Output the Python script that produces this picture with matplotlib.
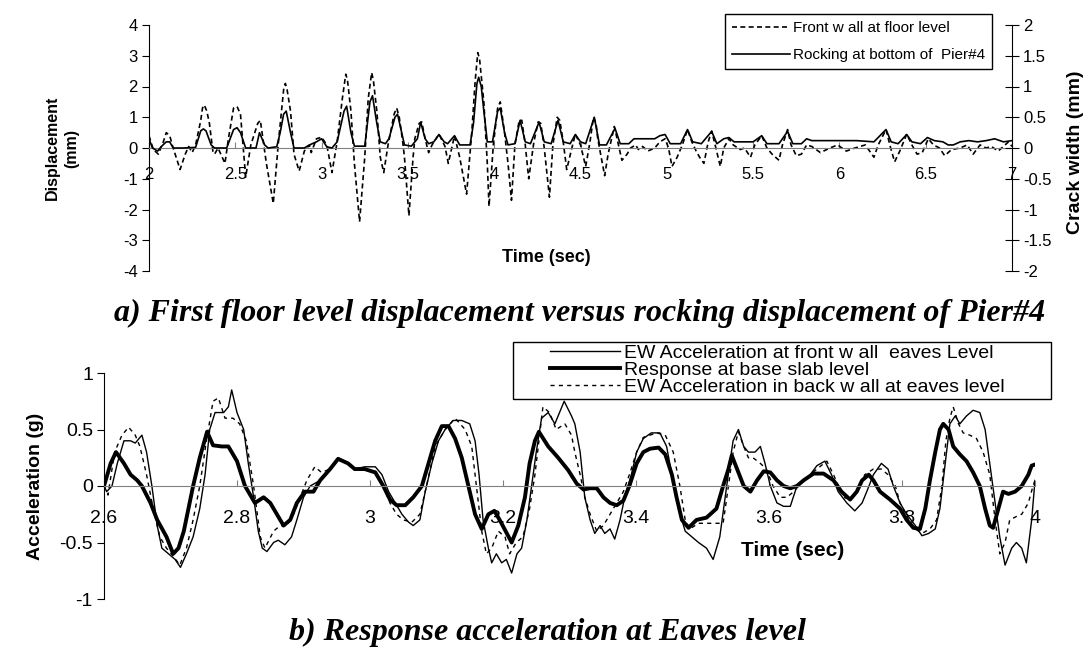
import matplotlib
matplotlib.use('Agg')
import matplotlib.pyplot as plt
from matplotlib.patches import Rectangle

plt.rcParams['font.family'] = ['Liberation Sans', 'DejaVu Sans']

# ---- panel a: displacement (mm) and crack width (mm) vs time (sec)
front_wall = [
    (2.00, 0.4), (2.025, -0.05), (2.054, -0.2), (2.083, 0.2), (2.10, 0.5), (2.12, 0.4), (2.14, 0.0),
    (2.18, -0.7), (2.21, -0.2), (2.23, 0.05), (2.25, -0.15), (2.27, 0.1), (2.30, 0.9), (2.31, 1.3),
    (2.32, 1.4), (2.335, 1.2), (2.35, 0.8), (2.37, -0.1), (2.38, -0.2), (2.40, 0.0), (2.44, -0.5),
    (2.46, 0.3), (2.49, 1.3), (2.51, 1.35), (2.53, 1.1), (2.56, -0.95), (2.59, 0.1), (2.63, 0.8),
    (2.645, 0.9), (2.66, 0.3), (2.68, -0.5), (2.72, -1.8), (2.75, 0.2), (2.78, 1.9), (2.79, 2.1),
    (2.80, 1.9), (2.82, 1.2), (2.84, -0.2), (2.87, -0.75), (2.90, -0.1), (2.93, 0.1), (2.94, -0.15),
    (2.97, 0.3), (3.00, 0.35), (3.03, 0.1), (3.06, -0.8), (3.09, 0.2), (3.12, 1.6), (3.14, 2.4),
    (3.15, 2.2), (3.17, 1.2), (3.19, -0.5), (3.22, -2.4), (3.25, -0.3), (3.27, 1.6), (3.29, 2.45),
    (3.30, 2.2), (3.32, 1.2), (3.34, -0.3), (3.36, -0.8), (3.385, 0.1), (3.42, 1.1), (3.435, 1.3),
    (3.45, 1.0), (3.47, 0.2), (3.48, -0.3), (3.506, -2.2), (3.53, -0.3), (3.54, 0.3), (3.565, 0.8),
    (3.58, 0.85), (3.60, 0.3), (3.62, -0.15), (3.64, 0.1), (3.68, 0.45), (3.715, 0.05), (3.734, -0.5),
    (3.77, 0.4), (3.80, -0.3), (3.84, -1.5), (3.87, 0.5), (3.89, 2.2), (3.905, 3.1), (3.915, 2.9),
    (3.94, 1.5), (3.96, -0.5), (3.97, -1.9), (3.995, 0.1), (4.02, 1.3), (4.035, 1.5), (4.06, 0.5),
    (4.08, -0.5), (4.10, -1.7), (4.12, 0.1), (4.145, 0.9), (4.16, 0.9), (4.18, 0.1), (4.20, -1.0),
    (4.23, 0.2), (4.255, 0.85), (4.27, 0.8), (4.29, 0.0), (4.32, -1.6), (4.34, 0.1), (4.365, 1.0),
    (4.38, 0.9), (4.40, 0.2), (4.42, -0.7), (4.45, 0.0), (4.47, 0.45), (4.50, 0.1), (4.53, -0.6),
    (4.555, 0.2), (4.575, 1.0), (4.59, 0.8), (4.60, 0.3), (4.62, -0.3), (4.64, -0.9), (4.66, -0.2),
    (4.696, 0.7), (4.72, 0.1), (4.74, -0.4), (4.77, -0.2), (4.79, 0.0), (4.82, 0.1), (4.835, -0.05),
    (4.86, 0.05), (4.89, -0.1), (4.93, 0.0), (4.96, 0.2), (4.99, 0.3), (5.01, 0.0), (5.03, -0.6),
    (5.06, -0.3), (5.09, 0.1), (5.12, 0.6), (5.145, 0.2), (5.17, -0.1), (5.19, -0.3), (5.215, -0.5),
    (5.24, 0.2), (5.26, 0.55), (5.28, 0.1), (5.31, -0.6), (5.33, 0.0), (5.36, 0.3), (5.385, 0.1),
    (5.425, -0.05), (5.45, 0.0), (5.485, -0.3), (5.51, 0.1), (5.55, 0.4), (5.58, 0.0), (5.61, -0.2),
    (5.65, -0.4), (5.67, 0.1), (5.70, 0.6), (5.72, 0.1), (5.75, -0.25), (5.78, -0.2), (5.81, 0.1),
    (5.84, 0.05), (5.89, -0.15), (5.945, 0.0), (5.99, 0.1), (6.04, -0.1), (6.09, 0.0), (6.15, 0.1),
    (6.20, -0.3), (6.225, 0.1), (6.27, 0.6), (6.297, 0.0), (6.32, -0.45), (6.35, -0.1), (6.39, 0.45),
    (6.42, 0.1), (6.45, -0.2), (6.48, -0.15), (6.515, 0.3), (6.545, 0.1), (6.58, 0.0), (6.61, -0.25),
    (6.65, -0.05), (6.70, 0.0), (6.74, 0.1), (6.775, -0.2), (6.815, 0.1), (6.85, 0.0), (6.88, 0.05),
    (6.92, -0.1), (6.96, 0.1), (6.98, 0.2), (7.00, 0.05),
]

rocking = [
    (2.00, 0.15), (2.02, 0.0), (2.05, -0.05), (2.07, 0.02), (2.10, 0.1), (2.12, 0.1), (2.14, 0.0),
    (2.20, 0.0), (2.27, 0.01), (2.30, 0.28), (2.315, 0.31), (2.33, 0.28), (2.36, 0.05), (2.38, 0.0),
    (2.45, 0.0), (2.49, 0.3), (2.51, 0.33), (2.53, 0.25), (2.56, 0.0), (2.62, 0.0), (2.64, 0.25),
    (2.67, 0.05), (2.69, 0.0), (2.74, 0.02), (2.76, 0.25), (2.78, 0.55), (2.795, 0.6), (2.82, 0.25),
    (2.84, 0.0), (2.90, 0.0), (2.93, 0.05), (2.97, 0.1), (3.00, 0.15), (3.03, 0.02), (3.06, 0.0),
    (3.09, 0.1), (3.13, 0.6), (3.145, 0.68), (3.17, 0.25), (3.19, 0.03), (3.25, 0.03), (3.28, 0.75),
    (3.295, 0.85), (3.32, 0.4), (3.34, 0.1), (3.37, 0.07), (3.39, 0.15), (3.425, 0.5), (3.44, 0.55),
    (3.46, 0.3), (3.48, 0.05), (3.52, 0.03), (3.555, 0.15), (3.574, 0.42), (3.60, 0.15), (3.62, 0.07),
    (3.65, 0.1), (3.68, 0.22), (3.71, 0.1), (3.73, 0.07), (3.77, 0.2), (3.80, 0.05), (3.86, 0.05),
    (3.88, 0.4), (3.90, 1.05), (3.91, 1.15), (3.925, 1.0), (3.94, 0.6), (3.96, 0.1), (3.99, 0.1),
    (4.02, 0.6), (4.035, 0.65), (4.06, 0.25), (4.08, 0.05), (4.12, 0.07), (4.15, 0.45), (4.18, 0.1),
    (4.21, 0.07), (4.26, 0.42), (4.29, 0.1), (4.33, 0.07), (4.37, 0.45), (4.40, 0.1), (4.44, 0.07),
    (4.47, 0.22), (4.50, 0.1), (4.53, 0.07), (4.58, 0.5), (4.61, 0.05), (4.65, 0.05), (4.70, 0.32),
    (4.73, 0.07), (4.78, 0.07), (4.81, 0.15), (4.85, 0.15), (4.90, 0.15), (4.93, 0.15), (4.96, 0.2),
    (4.99, 0.22), (5.02, 0.07), (5.08, 0.07), (5.12, 0.3), (5.15, 0.1), (5.20, 0.07), (5.26, 0.27),
    (5.29, 0.07), (5.33, 0.15), (5.36, 0.17), (5.39, 0.1), (5.42, 0.1), (5.50, 0.1), (5.55, 0.2),
    (5.58, 0.07), (5.65, 0.07), (5.70, 0.27), (5.73, 0.07), (5.78, 0.07), (5.81, 0.15), (5.84, 0.12),
    (6.00, 0.12), (6.10, 0.12), (6.20, 0.1), (6.27, 0.3), (6.30, 0.1), (6.34, 0.07), (6.39, 0.22),
    (6.42, 0.1), (6.47, 0.07), (6.51, 0.17), (6.55, 0.12), (6.60, 0.1), (6.63, 0.05), (6.66, 0.05),
    (6.70, 0.1), (6.75, 0.12), (6.80, 0.1), (6.85, 0.12), (6.90, 0.15), (6.95, 0.1), (7.00, 0.12),
]

# ---- panel b: acceleration (g) vs time (sec)
ew_front = [
    (2.600, 0.0), (2.604, -0.05), (2.612, 0.0), (2.620, 0.2), (2.630, 0.4), (2.640, 0.4), (2.647, 0.38),
    (2.657, 0.45), (2.664, 0.3), (2.672, 0.0), (2.680, -0.35), (2.687, -0.55), (2.697, -0.6),
    (2.707, -0.65), (2.715, -0.72), (2.724, -0.6), (2.734, -0.45), (2.744, -0.2), (2.752, 0.1),
    (2.759, 0.5), (2.767, 0.65), (2.780, 0.65), (2.787, 0.7), (2.792, 0.85), (2.800, 0.65),
    (2.810, 0.5), (2.817, 0.2), (2.825, -0.1), (2.832, -0.4), (2.838, -0.55), (2.845, -0.58),
    (2.855, -0.5), (2.862, -0.48), (2.872, -0.52), (2.882, -0.45), (2.890, -0.3), (2.900, -0.1),
    (2.910, 0.0), (2.925, 0.05), (2.940, 0.15), (2.952, 0.25), (2.967, 0.2), (2.977, 0.15),
    (2.992, 0.17), (3.008, 0.17), (3.018, 0.1), (3.028, -0.05), (3.038, -0.15), (3.048, -0.25),
    (3.058, -0.32), (3.065, -0.35), (3.075, -0.3), (3.083, -0.05), (3.093, 0.2), (3.103, 0.4),
    (3.113, 0.5), (3.125, 0.58), (3.138, 0.58), (3.150, 0.55), (3.158, 0.4), (3.164, 0.1),
    (3.170, -0.3), (3.178, -0.55), (3.183, -0.68), (3.190, -0.6), (3.198, -0.68), (3.205, -0.65),
    (3.213, -0.77), (3.221, -0.6), (3.228, -0.55), (3.236, -0.3), (3.243, 0.0), (3.250, 0.3),
    (3.258, 0.6), (3.268, 0.65), (3.278, 0.55), (3.292, 0.75), (3.303, 0.62), (3.308, 0.55),
    (3.316, 0.3), (3.323, -0.1), (3.331, -0.3), (3.338, -0.42), (3.346, -0.35), (3.353, -0.42),
    (3.361, -0.38), (3.368, -0.47), (3.376, -0.3), (3.383, -0.1), (3.393, 0.1), (3.401, 0.3),
    (3.411, 0.42), (3.423, 0.47), (3.436, 0.47), (3.446, 0.35), (3.454, 0.1), (3.464, -0.2),
    (3.474, -0.4), (3.484, -0.45), (3.494, -0.5), (3.506, -0.55), (3.516, -0.65), (3.526, -0.45),
    (3.534, -0.1), (3.541, 0.2), (3.546, 0.4), (3.554, 0.5), (3.562, 0.35), (3.569, 0.3),
    (3.579, 0.3), (3.587, 0.35), (3.594, 0.2), (3.602, 0.0), (3.612, -0.15), (3.622, -0.18),
    (3.632, -0.18), (3.642, 0.0), (3.652, 0.05), (3.662, 0.1), (3.672, 0.18), (3.684, 0.22),
    (3.694, 0.1), (3.704, -0.05), (3.717, -0.15), (3.729, -0.22), (3.740, -0.15), (3.747, -0.05),
    (3.757, 0.1), (3.769, 0.2), (3.779, 0.15), (3.787, 0.0), (3.797, -0.15), (3.807, -0.25),
    (3.820, -0.35), (3.830, -0.44), (3.840, -0.42), (3.850, -0.38), (3.857, -0.2), (3.865, 0.2),
    (3.872, 0.55), (3.880, 0.62), (3.887, 0.55), (3.897, 0.62), (3.907, 0.67), (3.917, 0.65),
    (3.925, 0.5), (3.932, 0.2), (3.940, -0.15), (3.947, -0.45), (3.955, -0.7), (3.965, -0.55),
    (3.972, -0.5), (3.980, -0.55), (3.987, -0.68), (3.995, -0.3), (4.000, 0.05),
]

base_slab = [
    (2.600, 0.0), (2.610, 0.2), (2.618, 0.3), (2.630, 0.2), (2.640, 0.1), (2.650, 0.05), (2.657, 0.0),
    (2.670, -0.15), (2.680, -0.3), (2.694, -0.45), (2.704, -0.6), (2.712, -0.55), (2.720, -0.4),
    (2.727, -0.2), (2.734, 0.0), (2.744, 0.25), (2.755, 0.48), (2.764, 0.36), (2.777, 0.35),
    (2.787, 0.35), (2.800, 0.22), (2.812, 0.0), (2.827, -0.15), (2.840, -0.1), (2.850, -0.15),
    (2.860, -0.25), (2.870, -0.35), (2.880, -0.3), (2.890, -0.15), (2.902, -0.05), (2.915, -0.05),
    (2.925, 0.05), (2.940, 0.15), (2.952, 0.24), (2.967, 0.2), (2.977, 0.15), (2.992, 0.15),
    (3.008, 0.12), (3.020, 0.0), (3.030, -0.12), (3.040, -0.17), (3.053, -0.17), (3.065, -0.1),
    (3.078, 0.0), (3.088, 0.2), (3.098, 0.4), (3.108, 0.53), (3.118, 0.53), (3.128, 0.42),
    (3.138, 0.25), (3.148, 0.0), (3.158, -0.25), (3.168, -0.38), (3.178, -0.25), (3.187, -0.22),
    (3.195, -0.3), (3.204, -0.4), (3.213, -0.5), (3.223, -0.35), (3.233, -0.1), (3.240, 0.2),
    (3.248, 0.4), (3.254, 0.48), (3.268, 0.35), (3.283, 0.25), (3.298, 0.14), (3.311, 0.02),
    (3.321, -0.03), (3.331, -0.02), (3.341, -0.02), (3.351, -0.1), (3.361, -0.15), (3.371, -0.17),
    (3.381, -0.13), (3.390, 0.0), (3.401, 0.2), (3.411, 0.3), (3.421, 0.33), (3.434, 0.34),
    (3.444, 0.28), (3.454, 0.1), (3.461, -0.1), (3.469, -0.3), (3.479, -0.37), (3.491, -0.3),
    (3.506, -0.28), (3.521, -0.2), (3.531, 0.0), (3.539, 0.15), (3.544, 0.27), (3.552, 0.15),
    (3.562, 0.0), (3.572, -0.05), (3.582, 0.05), (3.592, 0.13), (3.602, 0.12), (3.612, 0.05),
    (3.622, 0.0), (3.632, -0.02), (3.642, 0.0), (3.652, 0.05), (3.667, 0.11), (3.682, 0.11),
    (3.697, 0.05), (3.709, -0.05), (3.722, -0.12), (3.732, -0.05), (3.740, 0.05), (3.750, 0.1),
    (3.757, 0.05), (3.767, -0.05), (3.782, -0.12), (3.797, -0.2), (3.807, -0.3), (3.817, -0.37),
    (3.827, -0.38), (3.835, -0.2), (3.842, 0.05), (3.850, 0.3), (3.857, 0.5), (3.862, 0.55),
    (3.870, 0.5), (3.877, 0.35), (3.887, 0.28), (3.897, 0.22), (3.907, 0.12), (3.917, 0.0),
    (3.925, -0.2), (3.932, -0.35), (3.937, -0.37), (3.945, -0.2), (3.952, -0.05), (3.960, -0.07),
    (3.970, -0.05), (3.980, 0.0), (3.990, 0.1), (3.995, 0.18), (4.000, 0.19),
]

ew_back = [
    (2.600, 0.0), (2.606, -0.08), (2.616, 0.3), (2.627, 0.45), (2.637, 0.52), (2.647, 0.45),
    (2.654, 0.35), (2.664, 0.1), (2.674, -0.2), (2.684, -0.45), (2.694, -0.55), (2.704, -0.62),
    (2.714, -0.7), (2.724, -0.55), (2.734, -0.3), (2.744, 0.0), (2.754, 0.4), (2.764, 0.75),
    (2.772, 0.78), (2.782, 0.6), (2.794, 0.6), (2.804, 0.55), (2.814, 0.4), (2.825, 0.0),
    (2.835, -0.45), (2.842, -0.55), (2.855, -0.4), (2.865, -0.35), (2.875, -0.35), (2.885, -0.25),
    (2.895, -0.1), (2.905, 0.05), (2.917, 0.17), (2.927, 0.12), (2.940, 0.15), (2.952, 0.24),
    (2.967, 0.2), (2.977, 0.15), (2.992, 0.15), (3.008, 0.13), (3.020, 0.0), (3.030, -0.15),
    (3.040, -0.25), (3.050, -0.3), (3.063, -0.32), (3.075, -0.25), (3.085, 0.0), (3.098, 0.35),
    (3.113, 0.5), (3.128, 0.6), (3.143, 0.5), (3.153, 0.35), (3.160, 0.0), (3.168, -0.4),
    (3.175, -0.6), (3.183, -0.55), (3.193, -0.4), (3.203, -0.45), (3.210, -0.6), (3.220, -0.5),
    (3.230, -0.45), (3.240, -0.2), (3.248, 0.1), (3.254, 0.4), (3.260, 0.7), (3.270, 0.65),
    (3.280, 0.5), (3.293, 0.55), (3.303, 0.45), (3.308, 0.3), (3.316, 0.1), (3.323, -0.1),
    (3.331, -0.25), (3.341, -0.4), (3.351, -0.35), (3.361, -0.25), (3.371, -0.15), (3.381, -0.05),
    (3.390, 0.1), (3.401, 0.3), (3.411, 0.43), (3.421, 0.45), (3.431, 0.47), (3.444, 0.45),
    (3.456, 0.3), (3.466, 0.0), (3.474, -0.3), (3.481, -0.38), (3.494, -0.33), (3.511, -0.33),
    (3.531, -0.33), (3.539, 0.0), (3.546, 0.3), (3.554, 0.48), (3.562, 0.35), (3.569, 0.25),
    (3.576, 0.25), (3.587, 0.2), (3.596, 0.15), (3.606, 0.0), (3.617, -0.1), (3.627, -0.1),
    (3.637, -0.05), (3.652, 0.05), (3.672, 0.15), (3.687, 0.22), (3.697, 0.1), (3.712, -0.1),
    (3.722, -0.12), (3.732, -0.05), (3.744, 0.1), (3.757, 0.15), (3.769, 0.15), (3.779, 0.1),
    (3.790, 0.0), (3.797, -0.15), (3.810, -0.3), (3.820, -0.38), (3.830, -0.42), (3.842, -0.38),
    (3.852, -0.3), (3.860, 0.0), (3.866, 0.4), (3.872, 0.6), (3.877, 0.7), (3.885, 0.55),
    (3.892, 0.47), (3.902, 0.45), (3.912, 0.42), (3.922, 0.3), (3.932, 0.1), (3.940, -0.3),
    (3.947, -0.6), (3.955, -0.5), (3.962, -0.3), (3.972, -0.27), (3.980, -0.25), (3.990, -0.15),
    (3.997, 0.0), (4.000, 0.05),
]

top_xticks = [2, 2.5, 3, 3.5, 4, 4.5, 5, 5.5, 6, 6.5, 7]
top_yticks = [-4, -3, -2, -1, 0, 1, 2, 3, 4]
crack_ticks = [-2, -1.5, -1, -0.5, 0, 0.5, 1, 1.5, 2]
bot_xticks = [2.6, 2.8, 3.0, 3.2, 3.4, 3.6, 3.8, 4.0]
bot_yticks = [-1, -0.5, 0, 0.5, 1]

W, H = 1089, 660
fig = plt.figure(figsize=(W / 100, H / 100), dpi=100)


def fmt(v):
    return f'{v:g}'


# ---------------- panel a
ax = fig.add_axes([149 / W, 1 - 271 / H, 863 / W, 246 / H])
axr = ax.twinx()
t, d = zip(*front_wall)
l1, = ax.plot(t, d, color='black', lw=1.2, ls=(0, (3, 2)))
t, w = zip(*rocking)
l2, = axr.plot(t, w, color='black', lw=1.2)

ax.set_xlim(2, 7)
ax.set_ylim(-4, 4)
axr.set_ylim(-2, 2)
ax.set_xticks(top_xticks, [fmt(v) for v in top_xticks])
ax.set_yticks(top_yticks, [fmt(v) for v in top_yticks])
axr.set_yticks(crack_ticks, [fmt(v) for v in crack_ticks])

ax.spines['top'].set_visible(False)
ax.spines['right'].set_visible(False)
ax.spines['bottom'].set_position(('data', 0))
ax.spines['bottom'].set_color('#808080')
for s in ['top', 'left', 'bottom']:
    axr.spines[s].set_visible(False)
ax.tick_params(axis='x', direction='in', length=4, color='#808080', labelsize=12, pad=14)
ax.tick_params(axis='y', direction='out', length=5, labelsize=12, pad=3)
axr.tick_params(axis='y', direction='inout', length=10, labelsize=12, pad=3)

axr.legend([l1, l2], ['Front w all at floor level', 'Rocking at bottom of  Pier#4'],
           loc='upper right', bbox_to_anchor=(992 / W, 1 - 14 / H), bbox_transform=fig.transFigure,
           fontsize=11, frameon=True, fancybox=False, edgecolor='black', framealpha=1,
           handlelength=3.8, handletextpad=0.2, labelspacing=0.85, borderpad=0.45, borderaxespad=0)

fig.text(62 / W, 1 - 148 / H, 'Displacement\n(mm)', rotation=90, ha='center', va='center',
         fontsize=11.5, fontweight='bold', linespacing=1.3)
fig.text(1076 / W, 1 - 152 / H, 'Crack width (mm)', rotation=90, ha='center', va='center',
         fontsize=14, fontweight='bold')
fig.text(546 / W, 1 - 258 / H, 'Time (sec)', ha='center', va='center', fontsize=13, fontweight='bold')

fig.text(580 / W, 1 - 313 / H, 'a) First floor level displacement versus rocking displacement of Pier#4',
         ha='center', va='center', fontsize=23, fontweight='bold', fontstyle='italic',
         family=['Liberation Serif', 'DejaVu Serif'])

# ---------------- panel b
bx = fig.add_axes([104 / W, 1 - 599 / H, 931 / W, 226 / H])
t, a = zip(*ew_front)
m1, = bx.plot(t, a, color='black', lw=1.0)
t, a = zip(*base_slab)
m2, = bx.plot(t, a, color='black', lw=2.8)
t, a = zip(*ew_back)
m3, = bx.plot(t, a, color='black', lw=1.0, ls=(0, (3, 3)))

bx.set_xlim(2.6, 4.0)
bx.set_ylim(-1, 1)
bx.set_xticks(bot_xticks, [fmt(v) for v in bot_xticks])
bx.set_yticks(bot_yticks, [fmt(v) for v in bot_yticks])
bx.spines['top'].set_visible(False)
bx.spines['right'].set_visible(False)
bx.spines['bottom'].set_position(('data', 0))
bx.spines['bottom'].set_color('#808080')
bx.tick_params(axis='x', direction='in', length=4, color='#808080', labelsize=14, pad=17)
bx.tick_params(axis='y', direction='out', length=5, labelsize=14, pad=3)

# legend frame, Excel-style with wide side margins
fig.patches.append(Rectangle((513 / W, 1 - 399 / H), 538 / W, 57 / H, transform=fig.transFigure,
                             facecolor='white', edgecolor='black', lw=1.0, zorder=4))
fig.legend([m1, m2, m3], ['EW Acceleration at front w all  eaves Level', 'Response at base slab level',
                          'EW Acceleration in back w all at eaves level'],
           loc='upper left', bbox_to_anchor=(550 / W, 1 - 344 / H), frameon=False,
           fontsize=14, handlelength=3.6, handletextpad=0.2, labelspacing=-0.02,
           borderpad=0, borderaxespad=0).set_zorder(5)

fig.text(36 / W, 1 - 486 / H, 'Acceleration (g)', rotation=90, ha='center', va='center',
         fontsize=14, fontweight='bold')
fig.text(793 / W, 1 - 550 / H, 'Time (sec)', ha='center', va='center', fontsize=15, fontweight='bold')

fig.text(547 / W, 1 - 632 / H, 'b) Response acceleration at Eaves level',
         ha='center', va='center', fontsize=23, fontweight='bold', fontstyle='italic',
         family=['Liberation Serif', 'DejaVu Serif'])

fig.savefig('out.png', dpi=100)
